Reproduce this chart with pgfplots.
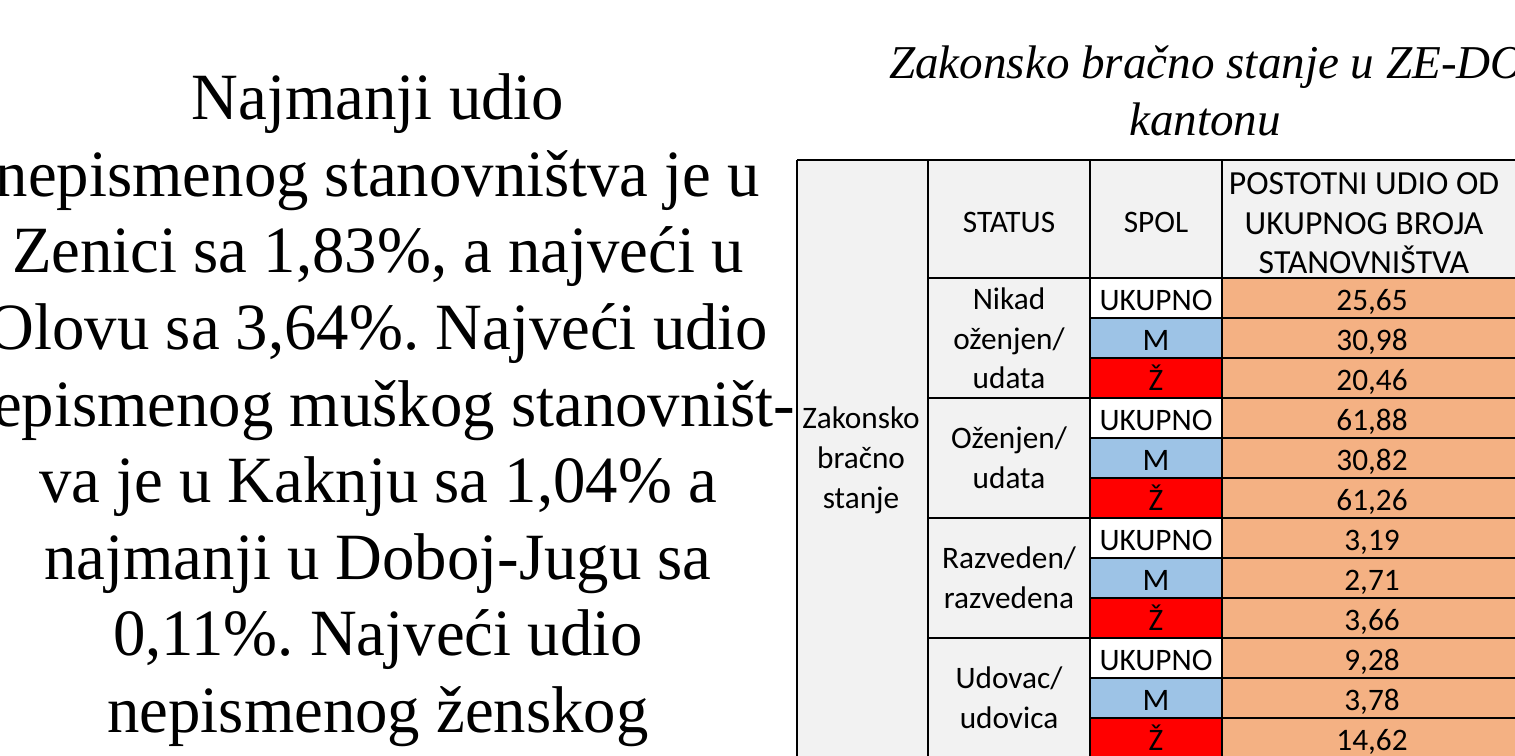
\documentclass[border=0pt]{standalone}
\usepackage{pgfplots}
\usepackage{fontspec}
\pgfplotsset{compat=1.18}
\setmainfont{Liberation Serif}
\newfontfamily\calibri{Carlito}
\definecolor{CellGray}{HTML}{F2F2F2}
\definecolor{CellOrange}{HTML}{F4B183}
\definecolor{CellBlue}{HTML}{9DC3E6}
\definecolor{CellRed}{HTML}{FF0000}
\frenchspacing

% px -> pt : 1 px = 0.1 mm
\tikzset{
  body/.style={font=\fontsize{18.8}{21.8}\selectfont, anchor=base, inner sep=0pt, xscale=0.98},
  ttl/.style={font=\fontsize{13.4}{15}\selectfont\itshape, anchor=base, inner sep=0pt},
  cell/.style={font=\calibri\fontsize{8.9}{10}\selectfont, anchor=base, inner sep=0pt},
  hcell/.style={font=\calibri\fontsize{9.6}{11}\selectfont, anchor=base, inner sep=0pt},
  grid/.style={draw=black, line width=0.6pt},
}

\begin{document}
\begin{tikzpicture}
\begin{axis}[
  at={(0,0)}, anchor=south west,
  scale only axis,
  width=15.15cm, height=7.55cm,
  xmin=0, xmax=1515, ymin=0, ymax=755,
  y dir=reverse,
  axis lines=none,
  clip=false,
  /pgf/number format/assume math mode=true,
]
% cell backgrounds
\fill[CellGray] (axis cs:797,160) rectangle (axis cs:1520,278);
\fill[CellGray] (axis cs:797,278) rectangle (axis cs:1090,760);
\pgfplotsinvokeforeach{278,398,518,638}{
  \fill[white]    (axis cs:1090,#1) rectangle (axis cs:1222,#1+40);
  \fill[CellBlue] (axis cs:1090,#1+40) rectangle (axis cs:1222,#1+80);
  \fill[CellRed]  (axis cs:1090,#1+80) rectangle (axis cs:1222,#1+120);
}
\fill[CellOrange] (axis cs:1222,278) rectangle (axis cs:1520,760);

% grid lines
\draw[grid] (axis cs:797,160) -- (axis cs:1520,160);
\draw[grid] (axis cs:928,278) -- (axis cs:1520,278);
\pgfplotsinvokeforeach{398,518,638}{\draw[grid] (axis cs:928,#1) -- (axis cs:1520,#1);}
\pgfplotsinvokeforeach{318,358,438,478,558,598,678,718}{\draw[grid] (axis cs:1090,#1) -- (axis cs:1520,#1);}
\pgfplotsinvokeforeach{797,928,1090,1222}{\draw[grid] (axis cs:#1,160) -- (axis cs:#1,760);}

% header (baselines)
\node[cell] at (axis cs:1009,232) {STATUS};
\node[cell] at (axis cs:1156,232) {SPOL};
\node[hcell] at (axis cs:1364,194) {POSTOTNI UDIO OD};
\node[hcell] at (axis cs:1364,234) {UKUPNOG BROJA};
\node[hcell] at (axis cs:1364,273) {STANOVNIŠTVA};
% first column
\node[cell] at (axis cs:861,428) {Zakonsko};
\node[cell] at (axis cs:861,468) {bračno};
\node[cell] at (axis cs:861,508) {stanje};
% status groups
\node[cell] at (axis cs:1009,309) {Nikad};
\node[cell] at (axis cs:1009,349) {oženjen/};
\node[cell] at (axis cs:1009,388) {udata};
\node[cell] at (axis cs:1009,448) {Oženjen/};
\node[cell] at (axis cs:1009,488) {udata};
\node[cell] at (axis cs:1009,568) {Razveden/};
\node[cell] at (axis cs:1009,608) {razvedena};
\node[cell] at (axis cs:1009,688) {Udovac/};
\node[cell] at (axis cs:1009,728) {udovica};

% spol labels
\addplot[draw=none, mark=none, nodes near coords, point meta=explicit symbolic,
  nodes near coords style={cell}] table[meta=lab] {
x y lab
1156 310 UKUPNO
1156 350 M
1156 390 Ž
1156 430 UKUPNO
1156 470 M
1156 510 Ž
1156 550 UKUPNO
1156 590 M
1156 630 Ž
1156 670 UKUPNO
1156 710 M
1156 750 Ž
};

% percentages
\addplot[draw=none, mark=none, nodes near coords={\pgfmathprintnumber[fixed, fixed zerofill, precision=2, use comma]{\pgfplotspointmeta}},
  point meta=explicit, nodes near coords style={cell}] table[meta=v] {
x y v
1372 310 25.65
1372 350 30.98
1372 390 20.46
1372 430 61.88
1372 470 30.82
1372 510 61.26
1372 550 3.19
1372 590 2.71
1372 630 3.66
1372 670 9.28
1372 710 3.78
1372 750 14.62
};

% title
\node[ttl] at (axis cs:1207,78) {Zakonsko bračno stanje u ZE-DO};
\node[ttl] at (axis cs:1205,135) {kantonu};

% left text
\node[body] at (axis cs:378,119) {Najmanji udio};
\node[body] at (axis cs:378,196) {nepismenog stanovništva je u};
\node[body] at (axis cs:378,272) {Zenici sa 1,83\%, a najveći u};
\node[body] at (axis cs:378,349) {Olovu sa 3,64\%. Najveći udio};
\node[body] at (axis cs:378,426) {nepismenog muškog stanovništ-};
\node[body] at (axis cs:378,502) {va je u Kaknju sa 1,04\% a};
\node[body] at (axis cs:378,579) {najmanji u Doboj-Jugu sa};
\node[body] at (axis cs:378,655) {0,11\%. Najveći udio};
\node[body] at (axis cs:378,732) {nepismenog ženskog};
\end{axis}
\pgfresetboundingbox
\useasboundingbox (0,0) rectangle (15.15cm,7.55cm);
\end{tikzpicture}
\end{document}
